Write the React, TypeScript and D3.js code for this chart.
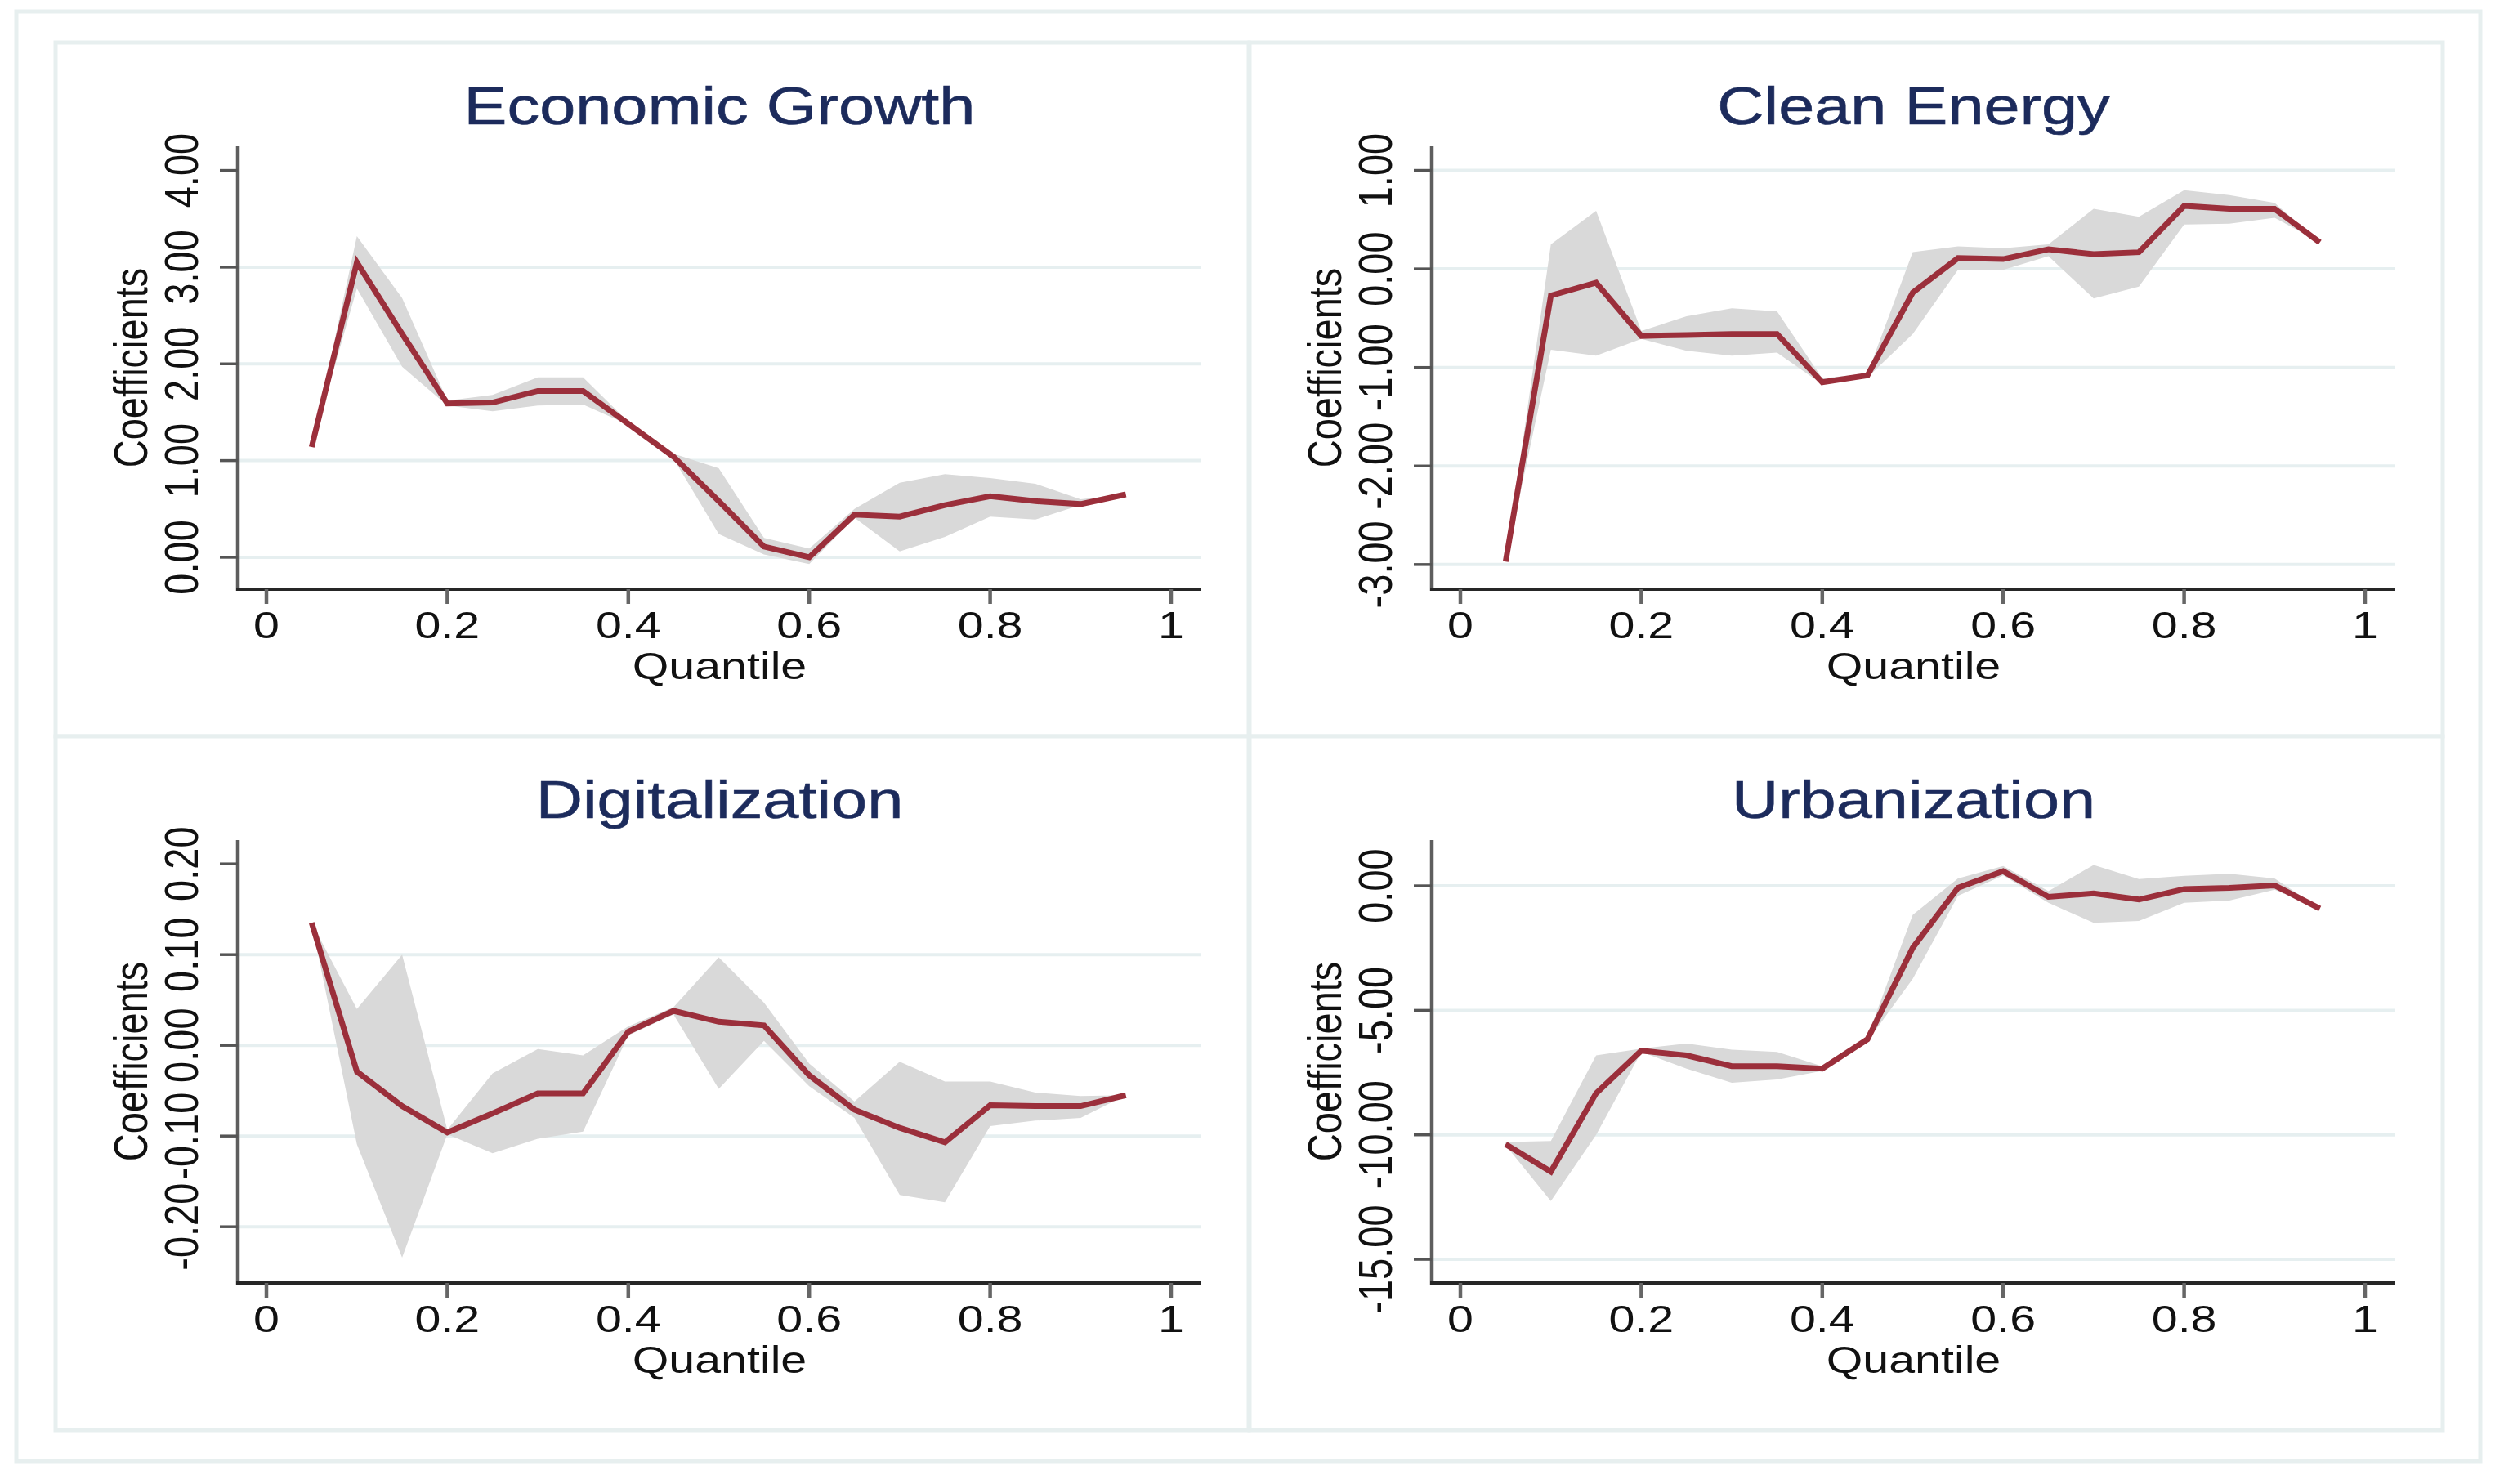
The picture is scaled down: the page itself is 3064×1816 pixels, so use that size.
import React from "react";
import * as d3 from "d3";

const quantiles = [0.05, 0.1, 0.15, 0.2, 0.25, 0.3, 0.35, 0.4, 0.45, 0.5, 0.55, 0.6, 0.65, 0.7, 0.75, 0.8, 0.85, 0.9, 0.95];
const xTicks = [0, 0.2, 0.4, 0.6, 0.8, 1];

const growthCoef = [1.14, 3.05, 2.31, 1.59, 1.6, 1.72, 1.72, 1.38, 1.04, 0.58, 0.11, 0.0, 0.44, 0.42, 0.54, 0.63, 0.58, 0.55, 0.65];
const growthUpper = [1.14, 3.32, 2.68, 1.62, 1.68, 1.86, 1.86, 1.4, 1.07, 0.92, 0.2, 0.09, 0.5, 0.77, 0.86, 0.82, 0.76, 0.6, 0.65];
const growthLower = [1.14, 2.78, 1.97, 1.57, 1.51, 1.57, 1.58, 1.37, 1.02, 0.24, 0.03, -0.07, 0.41, 0.06, 0.21, 0.42, 0.39, 0.54, 0.65];
const growthDomain = [-0.33, 4.25];
const growthTicks = [0, 1, 2, 3, 4];
const growthGrid = [0, 1, 2, 3];

const cleanCoef = [-2.97, -0.27, -0.14, -0.68, -0.67, -0.66, -0.66, -1.15, -1.08, -0.24, 0.11, 0.1, 0.2, 0.15, 0.17, 0.64, 0.61, 0.61, 0.27];
const cleanUpper = [-2.97, 0.25, 0.59, -0.63, -0.48, -0.4, -0.43, -1.11, -1.06, 0.17, 0.23, 0.21, 0.25, 0.61, 0.53, 0.8, 0.75, 0.67, 0.27];
const cleanLower = [-2.97, -0.82, -0.88, -0.71, -0.83, -0.88, -0.85, -1.17, -1.1, -0.66, -0.01, -0.01, 0.13, -0.3, -0.18, 0.45, 0.46, 0.52, 0.27];
const cleanDomain = [-3.25, 1.245];
const cleanTicks = [-3, -2, -1, 0, 1];
const cleanGrid = [-3, -2, -1, 0, 1];

const digitalCoef = [0.135, -0.029, -0.067, -0.096, -0.075, -0.053, -0.053, 0.015, 0.038, 0.026, 0.022, -0.033, -0.071, -0.091, -0.107, -0.066, -0.067, -0.067, -0.055];
const digitalUpper = [0.135, 0.04, 0.1, -0.093, -0.031, -0.004, -0.011, 0.021, 0.042, 0.097, 0.047, -0.02, -0.062, -0.018, -0.04, -0.04, -0.052, -0.056, -0.055];
const digitalLower = [0.135, -0.109, -0.234, -0.098, -0.119, -0.103, -0.095, 0.011, 0.034, -0.048, 0.005, -0.045, -0.08, -0.165, -0.173, -0.089, -0.083, -0.08, -0.055];
const digitalDomain = [-0.262, 0.2263];
const digitalTicks = [-0.2, -0.1, 0, 0.1, 0.2];
const digitalGrid = [-0.2, -0.1, 0, 0.1];

const urbanCoef = [-10.38, -11.48, -8.33, -6.62, -6.81, -7.24, -7.24, -7.34, -6.16, -2.49, -0.08, 0.59, -0.44, -0.3, -0.55, -0.13, -0.08, 0.02, -0.91];
const urbanUpper = [-10.29, -10.25, -6.81, -6.54, -6.33, -6.58, -6.67, -7.24, -6.05, -1.16, 0.3, 0.8, -0.21, 0.84, 0.27, 0.4, 0.49, 0.3, -0.91];
const urbanLower = [-10.42, -12.66, -10.0, -6.67, -7.34, -7.91, -7.78, -7.43, -6.24, -3.73, -0.4, 0.42, -0.68, -1.48, -1.41, -0.68, -0.59, -0.15, -0.91];
const urbanDomain = [-15.95, 1.84];
const urbanTicks = [-15, -10, -5, 0];
const urbanGrid = [-15, -10, -5, 0];

const titles = ["Economic Growth", "Clean Energy", "Digitalization", "Urbanization"];

const SX = 1.22;
const FONT = "'Liberation Sans', Arial, Helvetica, sans-serif";
const BORDER = "#e7efef";
const GRID = "#e6eff0";
const LINE = "#9b2f3b";
const BAND = "#d9d9d9";
const TITLE = "#1c2b5c";

interface PanelProps {
  ox: number;
  oy: number;
  title: string;
  coef: number[];
  upper: number[];
  lower: number[];
  domain: number[];
  ticks: number[];
  grid: number[];
}

function Panel({ ox, oy, title, coef, upper, lower, domain, ticks, grid }: PanelProps) {
  const axisX = 291 + ox;
  const right = 1470 + ox;
  const top = 179 + oy;
  const bottom = 721 + oy;
  const x = d3.scaleLinear().domain([0, 1]).range([326 + ox, 1433 + ox]);
  const y = d3.scaleLinear().domain(domain).range([bottom, top]);
  const idx = quantiles.map((_, i) => i);
  const area = d3
    .area<number>()
    .x((i) => x(quantiles[i]))
    .y0((i) => y(lower[i]))
    .y1((i) => y(upper[i]));
  const line = d3
    .line<number>()
    .x((i) => x(quantiles[i]))
    .y((i) => y(coef[i]));
  const cx = (axisX + right) / 2;
  const yMid = (top + bottom) / 2;
  return (
    <g>
      <rect x={68 + ox} y={52 + oy} width={1460} height={849} fill="white" stroke={BORDER} strokeWidth={5} />
      <text
        transform={`translate(${cx},${152 + oy}) scale(${SX},1)`}
        textAnchor="middle"
        fontSize={65}
        fill={TITLE}
        fontFamily={FONT}
        stroke={TITLE}
        strokeWidth={0.6}
      >
        {title}
      </text>
      {grid.map((v) => (
        <line key={"g" + v} x1={axisX} x2={right} y1={y(v)} y2={y(v)} stroke={GRID} strokeWidth={4} />
      ))}
      <path d={area(idx) || ""} fill={BAND} stroke="none" />
      <path d={line(idx) || ""} fill="none" stroke={LINE} strokeWidth={7} strokeLinejoin="miter" />
      <line x1={axisX} x2={axisX} y1={top} y2={bottom + 2} stroke="#5e5e5e" strokeWidth={4.5} />
      <line x1={axisX - 2} x2={right} y1={bottom} y2={bottom} stroke="#262626" strokeWidth={4} />
      {ticks.map((v) => (
        <g key={"yt" + v}>
          <line x1={axisX - 22} x2={axisX} y1={y(v)} y2={y(v)} stroke="#555" strokeWidth={3.5} />
          <text
            transform={`translate(${axisX - 49},${y(v)}) scale(${SX},1) rotate(-90)`}
            textAnchor="middle"
            fontSize={47}
            fill="#111"
            fontFamily={FONT}
          >
            {v.toFixed(2)}
          </text>
        </g>
      ))}
      {xTicks.map((v) => (
        <g key={"xt" + v}>
          <line x1={x(v)} x2={x(v)} y1={bottom} y2={bottom + 18} stroke="#666" strokeWidth={4.5} />
          <text
            transform={`translate(${x(v)},${781 + oy}) scale(${SX},1)`}
            textAnchor="middle"
            fontSize={47}
            fill="#111"
            fontFamily={FONT}
          >
            {String(v)}
          </text>
        </g>
      ))}
      <text
        transform={`translate(${cx},${831 + oy}) scale(${SX},1)`}
        textAnchor="middle"
        fontSize={47}
        fill="#111"
        fontFamily={FONT}
      >
        Quantile
      </text>
      <text
        transform={`translate(${axisX - 111},${yMid}) scale(${SX},1) rotate(-90)`}
        textAnchor="middle"
        fontSize={47}
        fill="#111"
        fontFamily={FONT}
      >
        Coefficients
      </text>
    </g>
  );
}

export default function App() {
  const DX = 1461;
  const DY = 849;
  return (
    <svg
      width={3064}
      height={1816}
      viewBox="0 0 3064 1816"
      style={{ position: "absolute", left: 0, top: 0, background: "white" }}
    >
      <rect x={0} y={0} width={3064} height={1816} fill="white" />
      <rect x={20} y={14} width={3015} height={1774} fill="white" stroke={BORDER} strokeWidth={5} />
      <Panel ox={0} oy={0} title={titles[0]} coef={growthCoef} upper={growthUpper} lower={growthLower} domain={growthDomain} ticks={growthTicks} grid={growthGrid} />
      <Panel ox={DX} oy={0} title={titles[1]} coef={cleanCoef} upper={cleanUpper} lower={cleanLower} domain={cleanDomain} ticks={cleanTicks} grid={cleanGrid} />
      <Panel ox={0} oy={DY} title={titles[2]} coef={digitalCoef} upper={digitalUpper} lower={digitalLower} domain={digitalDomain} ticks={digitalTicks} grid={digitalGrid} />
      <Panel ox={DX} oy={DY} title={titles[3]} coef={urbanCoef} upper={urbanUpper} lower={urbanLower} domain={urbanDomain} ticks={urbanTicks} grid={urbanGrid} />
    </svg>
  );
}
